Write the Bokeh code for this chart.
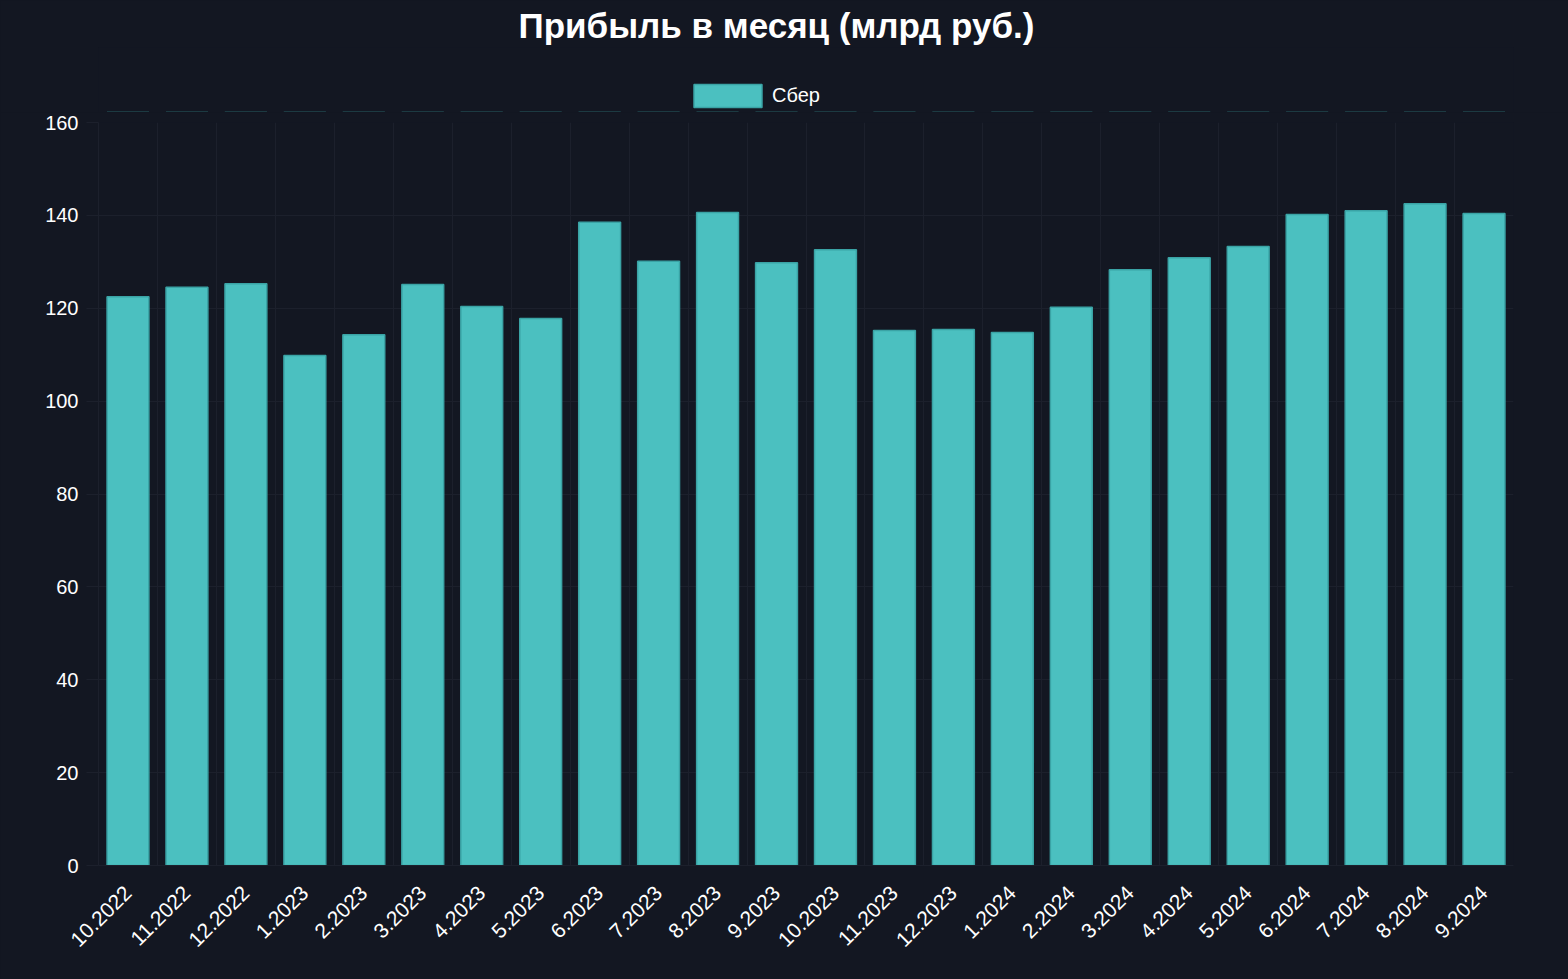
import numpy as np
from bokeh.plotting import figure
from bokeh.layouts import column
from bokeh.models import ColumnDataSource, FactorRange, Range1d, FixedTicker, Legend, LegendItem
from bokeh.embed import file_html
from bokeh.resources import INLINE

months = ["10.2022", "11.2022", "12.2022", "1.2023", "2.2023", "3.2023", "4.2023", "5.2023",
          "6.2023", "7.2023", "8.2023", "9.2023", "10.2023", "11.2023", "12.2023", "1.2024",
          "2.2024", "3.2024", "4.2024", "5.2024", "6.2024", "7.2024", "8.2024", "9.2024"]
profit = [122.5, 124.5, 125.3, 109.8, 114.3, 125.1, 120.4, 117.8,
          138.5, 130.1, 140.6, 129.8, 132.6, 115.2, 115.4, 114.8,
          120.2, 128.3, 130.9, 133.3, 140.2, 141.0, 142.5, 140.4]
series_name = "Сбер"
title_text = "Прибыль в месяц (млрд руб.)"
y_ticks = [0, 20, 40, 60, 80, 100, 120, 140, 160]

BG = "#131722"
GRID = "#1c202c"
FONT = "Liberation Sans"
BAR_FILL = "#4bc0c0"
BAR_LINE = "#3aa3a5"

src = ColumnDataSource(dict(month=months, profit=profit))
xr = FactorRange(*months, range_padding=0)

# ---- header: title + legend (its bars lie below its y range, only the legend shows) ----
head = figure(x_range=xr, y_range=Range1d(400, 500), width=1568, height=112,
              output_backend="svg", toolbar_location=None,
              min_border_left=98, min_border_right=55, min_border_top=0, min_border_bottom=0,
              background_fill_color=BG, border_fill_color=BG, outline_line_color=None)
head.axis.visible = False
head.grid.visible = False
hr = head.vbar(x="month", top="profit", width=0.71, source=src,
               fill_color=BAR_FILL, line_color=BAR_LINE, line_width=1.5)

head.title.text = title_text
head.title.align = "left"
head.title.offset = 420
head.title.text_font = FONT
head.title.text_font_size = "35px"
head.title.text_font_style = "bold"
head.title.text_color = "#ffffff"
head.title.standoff = 6

legend = Legend(items=[LegendItem(label=series_name, renderers=[hr])], location=(587, 2),
                orientation="horizontal", glyph_width=85, glyph_height=29,
                label_text_font=FONT, label_text_font_size="20px", label_text_color="#ffffff",
                background_fill_alpha=0, border_line_color=None, padding=2, margin=0,
                label_standoff=2)
head.add_layout(legend, "center")

# ---- main chart ----
p = figure(x_range=xr, y_range=Range1d(0, 160),
           width=1568, height=867, frame_width=1415, frame_height=743,
           output_backend="svg", toolbar_location=None,
           min_border_left=98, min_border_right=55, min_border_bottom=114, min_border_top=10,
           background_fill_color=BG, border_fill_color=BG, outline_line_color=None)

p.vbar(x="month", top="profit", width=0.71, source=src,
       fill_color=BAR_FILL, line_color=BAR_LINE, line_width=1.5)

p.yaxis.ticker = FixedTicker(ticks=y_ticks)
p.xgrid.ticker = FixedTicker(ticks=list(range(len(months) + 1)))
p.xgrid.grid_line_color = GRID
p.ygrid.grid_line_color = GRID
p.xgrid.grid_line_width = 1
p.ygrid.grid_line_width = 1

for ax in (p.xaxis[0], p.yaxis[0]):
    ax.axis_line_color = GRID
    ax.major_tick_line_color = GRID
    ax.minor_tick_line_color = None
    ax.major_label_text_color = "#ffffff"
    ax.major_label_text_font = FONT
    ax.major_label_text_font_size = "20px"

p.xaxis.major_label_text_font_size = "21px"
p.yaxis.major_tick_out = 12
p.yaxis.major_tick_in = 0
p.yaxis.major_label_standoff = 8
p.xaxis.major_tick_line_color = None
p.xaxis.major_label_orientation = np.pi / 4
p.xaxis.major_label_standoff = 18

layout = column(head, p, spacing=0, styles={"background-color": BG})
open("out.html", "w").write(file_html(layout, INLINE))
